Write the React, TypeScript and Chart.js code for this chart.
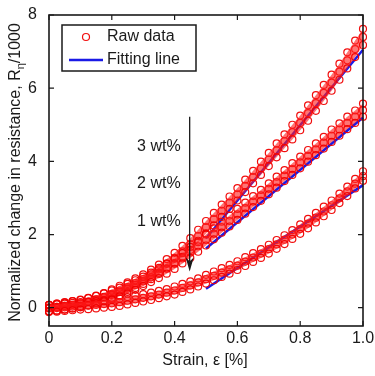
import React, { useEffect, useRef } from 'react';
import { Chart, registerables } from 'chart.js';

Chart.register(...registerables);

// ---- data ----
const strain = [0, 0.025, 0.05, 0.075, 0.1, 0.125, 0.15, 0.175, 0.2, 0.225, 0.25, 0.275, 0.3, 0.325, 0.35, 0.375, 0.4, 0.425, 0.45, 0.475, 0.5, 0.525, 0.55, 0.575, 0.6, 0.625, 0.65, 0.675, 0.7, 0.725, 0.75, 0.775, 0.8, 0.825, 0.85, 0.875, 0.9, 0.925, 0.95, 0.975, 1.0];

const raw3Loading = [-0.10, -0.08, -0.05, -0.02, 0.02, 0.07, 0.13, 0.20, 0.26, 0.34, 0.43, 0.54, 0.65, 0.78, 0.92, 1.07, 1.22, 1.39, 1.58, 1.79, 2.03, 2.25, 2.48, 2.70, 2.93, 3.16, 3.40, 3.63, 3.87, 4.11, 4.36, 4.60, 4.85, 5.11, 5.38, 5.65, 5.93, 6.23, 6.54, 6.85, 7.18];
const raw3Unloading = [0.08, 0.11, 0.15, 0.18, 0.22, 0.27, 0.33, 0.40, 0.50, 0.60, 0.69, 0.80, 0.91, 1.04, 1.18, 1.33, 1.50, 1.69, 1.90, 2.13, 2.37, 2.59, 2.82, 3.04, 3.27, 3.50, 3.74, 3.99, 4.23, 4.49, 4.74, 5.00, 5.25, 5.53, 5.81, 6.09, 6.37, 6.67, 6.98, 7.30, 7.62];
const raw3Middle = [0.00, 0.02, 0.05, 0.08, 0.12, 0.17, 0.23, 0.30, 0.38, 0.47, 0.56, 0.67, 0.78, 0.91, 1.05, 1.20, 1.36, 1.54, 1.74, 1.96, 2.20, 2.42, 2.65, 2.87, 3.10, 3.33, 3.57, 3.81, 4.05, 4.30, 4.55, 4.80, 5.05, 5.32, 5.59, 5.87, 6.15, 6.45, 6.76, 7.07, 7.40];

const raw2Loading = [-0.10, -0.08, -0.05, -0.02, 0.01, 0.06, 0.12, 0.17, 0.23, 0.31, 0.39, 0.49, 0.59, 0.70, 0.81, 0.93, 1.06, 1.21, 1.36, 1.53, 1.70, 1.87, 2.05, 2.22, 2.40, 2.57, 2.75, 2.92, 3.10, 3.28, 3.46, 3.63, 3.81, 3.99, 4.17, 4.35, 4.53, 4.70, 4.88, 5.05, 5.22];
const raw2Unloading = [0.08, 0.11, 0.14, 0.18, 0.21, 0.26, 0.32, 0.39, 0.47, 0.55, 0.65, 0.75, 0.85, 0.96, 1.09, 1.21, 1.34, 1.49, 1.66, 1.83, 2.00, 2.17, 2.35, 2.52, 2.70, 2.87, 3.05, 3.22, 3.40, 3.58, 3.76, 3.95, 4.13, 4.31, 4.49, 4.67, 4.87, 5.04, 5.22, 5.39, 5.58];
const raw2Middle = [0.00, 0.02, 0.05, 0.08, 0.11, 0.16, 0.22, 0.28, 0.35, 0.43, 0.52, 0.62, 0.72, 0.83, 0.95, 1.07, 1.20, 1.35, 1.51, 1.68, 1.85, 2.02, 2.20, 2.37, 2.55, 2.72, 2.90, 3.07, 3.25, 3.43, 3.61, 3.79, 3.97, 4.15, 4.33, 4.51, 4.70, 4.87, 5.05, 5.22, 5.40];

const raw1Loading = [-0.12, -0.11, -0.09, -0.07, -0.05, -0.04, -0.02, 0.00, 0.02, 0.05, 0.09, 0.13, 0.17, 0.21, 0.26, 0.31, 0.36, 0.43, 0.50, 0.58, 0.66, 0.75, 0.84, 0.93, 1.03, 1.14, 1.25, 1.36, 1.48, 1.61, 1.74, 1.88, 2.02, 2.17, 2.33, 2.50, 2.67, 2.86, 3.05, 3.26, 3.47];
const raw1Unloading = [0.08, 0.09, 0.11, 0.13, 0.15, 0.16, 0.18, 0.20, 0.22, 0.25, 0.29, 0.33, 0.37, 0.41, 0.46, 0.51, 0.58, 0.65, 0.72, 0.80, 0.90, 0.99, 1.08, 1.17, 1.27, 1.38, 1.49, 1.60, 1.72, 1.85, 1.98, 2.12, 2.28, 2.43, 2.59, 2.76, 2.93, 3.12, 3.31, 3.52, 3.73];
const raw1Middle = [-0.02, -0.01, 0.01, 0.03, 0.05, 0.06, 0.08, 0.10, 0.12, 0.15, 0.19, 0.23, 0.27, 0.31, 0.36, 0.41, 0.47, 0.54, 0.61, 0.69, 0.78, 0.87, 0.96, 1.05, 1.15, 1.26, 1.37, 1.48, 1.60, 1.73, 1.86, 2.00, 2.15, 2.30, 2.46, 2.63, 2.80, 2.99, 3.18, 3.39, 3.60];

const fitStrain = [0.5, 1.0];
const fit3 = [1.9, 7.05];
const fit2 = [1.62, 5.2];
const fit1 = [0.52, 3.35];

const xTicks = [0, 0.2, 0.4, 0.6, 0.8, 1.0];
const xTickLabels = ['0', '0.2', '0.4', '0.6', '0.8', '1.0'];
const yTicks = [0, 2, 4, 6, 8];

const groupLabels = ['3 wt%', '2 wt%', '1 wt%'];
const groupLabelX = [0.35, 0.35, 0.35];
const groupLabelY = [4.4, 3.4, 2.35];
const arrowX = 0.448;
const arrowFromY = 5.22;
const arrowToY = 0.99;

const legendLabels = ['Raw data', 'Fitting line'];
const xTitle = 'Strain, \u03b5 [%]';
const yTitleMain = 'Normalized change in resistance, R';
const yTitleSub = '\u03b7';
const yTitleEnd = '/1000';

const FONT = "'Liberation Sans', Arial, sans-serif";
const RED = 'rgba(240,0,0,0.95)';
const BAND = 'rgba(255,30,30,0.62)';
const BLUE = '#1a1ae6';
const INK = '#1a1a1a';

const pts = (xs: number[], ys: number[]) => xs.map((x, i) => ({ x, y: ys[i] }));

const rawSet = (ys: number[], fill: any) => ({
  type: 'line' as const,
  data: pts(strain, ys),
  showLine: true,
  borderWidth: 0,
  borderColor: 'rgba(0,0,0,0)',
  backgroundColor: BAND,
  fill,
  pointStyle: 'circle',
  pointRadius: 3.5,
  pointBorderWidth: 1.2,
  pointBorderColor: RED,
  pointBackgroundColor: 'rgba(0,0,0,0)',
  clip: 4,
});

const fitSet = (ys: number[]) => ({
  type: 'line' as const,
  data: pts(fitStrain, ys),
  borderColor: BLUE,
  borderWidth: 2.5,
  pointRadius: 0,
  fill: false,
  clip: 4,
});

const overlay = {
  id: 'overlay',
  afterDatasetsDraw(chart: any) {
    const { ctx, chartArea: a, scales } = chart;
    const xs = scales.x;
    const ys = scales.y;
    ctx.save();

    // inward tick marks on all four sides
    ctx.strokeStyle = INK;
    ctx.lineWidth = 1.2;
    ctx.beginPath();
    for (const v of xTicks) {
      const px = xs.getPixelForValue(v);
      ctx.moveTo(px, a.bottom);
      ctx.lineTo(px, a.bottom - 5);
      ctx.moveTo(px, a.top);
      ctx.lineTo(px, a.top + 5);
    }
    for (const v of yTicks) {
      const py = ys.getPixelForValue(v);
      ctx.moveTo(a.left, py);
      ctx.lineTo(a.left + 5, py);
      ctx.moveTo(a.right, py);
      ctx.lineTo(a.right - 5, py);
    }
    ctx.stroke();

    // frame
    ctx.lineWidth = 1.6;
    ctx.strokeRect(a.left, a.top, a.right - a.left, a.bottom - a.top);

    // group labels
    ctx.fillStyle = INK;
    ctx.font = `16px ${FONT}`;
    ctx.textAlign = 'center';
    ctx.textBaseline = 'middle';
    groupLabels.forEach((t, i) => {
      ctx.fillText(t, xs.getPixelForValue(groupLabelX[i]), ys.getPixelForValue(groupLabelY[i]));
    });

    // arrow
    const ax = xs.getPixelForValue(arrowX);
    const ay0 = ys.getPixelForValue(arrowFromY);
    const ay1 = ys.getPixelForValue(arrowToY);
    ctx.lineWidth = 1.3;
    ctx.beginPath();
    ctx.moveTo(ax, ay0);
    ctx.lineTo(ax, ay1 - 10);
    ctx.stroke();
    ctx.beginPath();
    ctx.moveTo(ax, ay1);
    ctx.lineTo(ax - 4, ay1 - 14);
    ctx.lineTo(ax, ay1 - 10);
    ctx.lineTo(ax + 4, ay1 - 14);
    ctx.closePath();
    ctx.fill();

    // legend
    const lx = a.left + 13;
    const ly = a.top + 10;
    const lw = 134;
    const lh = 46;
    ctx.fillStyle = '#fff';
    ctx.fillRect(lx, ly, lw, lh);
    ctx.lineWidth = 1.5;
    ctx.strokeStyle = INK;
    ctx.strokeRect(lx, ly, lw, lh);
    ctx.strokeStyle = RED;
    ctx.lineWidth = 1.2;
    ctx.beginPath();
    ctx.arc(lx + 24, ly + 12, 3.5, 0, Math.PI * 2);
    ctx.stroke();
    ctx.strokeStyle = BLUE;
    ctx.lineWidth = 2.5;
    ctx.beginPath();
    ctx.moveTo(lx + 7, ly + 35);
    ctx.lineTo(lx + 41, ly + 35);
    ctx.stroke();
    ctx.fillStyle = INK;
    ctx.font = `16px ${FONT}`;
    ctx.textAlign = 'left';
    ctx.textBaseline = 'middle';
    ctx.fillText(legendLabels[0], lx + 45, ly + 12);
    ctx.fillText(legendLabels[1], lx + 45, ly + 35);

    ctx.restore();
  },
  afterDraw(chart: any) {
    const { ctx, chartArea: a, scales } = chart;
    ctx.save();
    ctx.fillStyle = INK;
    ctx.font = `16px ${FONT}`;
    ctx.textBaseline = 'middle';
    ctx.textAlign = 'center';
    // x tick labels
    xTicks.forEach((v, i) => {
      ctx.fillText(xTickLabels[i], scales.x.getPixelForValue(v), a.bottom + 13);
    });
    // x title
    ctx.fillText(xTitle, (a.left + a.right) / 2 - 1, 361);
    // y title with subscript
    const mainW = ctx.measureText(yTitleMain).width;
    const endW = ctx.measureText(yTitleEnd).width;
    ctx.font = `11px ${FONT}`;
    const subW = ctx.measureText(yTitleSub).width;
    const total = mainW + subW + endW;
    ctx.translate(16, (a.top + a.bottom) / 2 + 2);
    ctx.rotate(-Math.PI / 2);
    ctx.textAlign = 'left';
    let cx = -total / 2;
    ctx.font = `16px ${FONT}`;
    ctx.fillText(yTitleMain, cx, 0);
    cx += mainW;
    ctx.font = `11px ${FONT}`;
    ctx.fillText(yTitleSub, cx, 5);
    cx += subW;
    ctx.font = `16px ${FONT}`;
    ctx.fillText(yTitleEnd, cx, 0);
    ctx.restore();
  },
};

export default function App() {
  const ref = useRef<HTMLCanvasElement | null>(null);
  useEffect(() => {
    if (!ref.current) return;
    const chart = new Chart(ref.current, {
      type: 'scatter',
      data: {
        datasets: [
          rawSet(raw1Loading, '+1'),
          rawSet(raw1Unloading, false),
          rawSet(raw1Middle, false),
          rawSet(raw2Loading, '+1'),
          rawSet(raw2Unloading, false),
          rawSet(raw2Middle, false),
          rawSet(raw3Loading, '+1'),
          rawSet(raw3Unloading, false),
          rawSet(raw3Middle, false),
          fitSet(fit1),
          fitSet(fit2),
          fitSet(fit3),
        ] as any,
      },
      options: {
        responsive: false,
        animation: false,
        devicePixelRatio: 1,
        layout: { padding: { top: 15, right: 12, left: 0, bottom: 0 } },
        plugins: { legend: { display: false }, tooltip: { enabled: false } },
        scales: {
          x: {
            type: 'linear',
            min: 0,
            max: 1,
            grid: { display: false },
            border: { display: false },
            afterBuildTicks: (s: any) => {
              s.ticks = xTicks.map((v) => ({ value: v }));
            },
            afterFit: (s: any) => {
              s.height = 50;
            },
            ticks: { display: false },
          },
          y: {
            type: 'linear',
            min: -0.5,
            max: 8,
            grid: { display: false },
            border: { display: false },
            afterBuildTicks: (s: any) => {
              s.ticks = yTicks.map((v) => ({ value: v }));
            },
            afterFit: (s: any) => {
              s.width = 49;
            },
            ticks: {
              padding: 4,
              color: INK,
              font: { family: FONT, size: 16 },
              autoSkip: false,
              callback: (v: any) => String(v),
            },
          },
        },
      },
      plugins: [overlay],
    });
    return () => chart.destroy();
  }, []);
  return (
    <div style={{ position: 'absolute', left: 0, top: 0, width: 375, height: 376, background: '#fff' }}>
      <canvas ref={ref} width={375} height={376} />
    </div>
  );
}
